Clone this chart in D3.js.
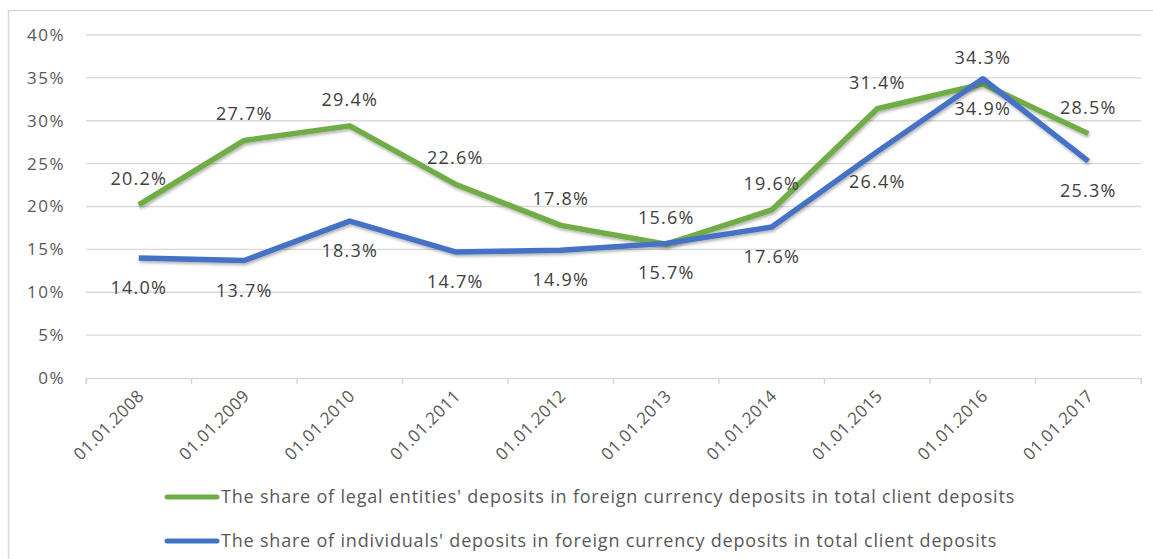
<!DOCTYPE html>
<html><head><meta charset="utf-8">
<script src="https://cdn.jsdelivr.net/npm/d3@7"></script>
<style>body{margin:0;background:#fff;}svg{display:block;font-family:"Open Sans",sans-serif;}</style>
</head><body><svg id="c" width="1153" height="559"></svg>
<script>
const categories = ["01.01.2008","01.01.2009","01.01.2010","01.01.2011","01.01.2012","01.01.2013","01.01.2014","01.01.2015","01.01.2016","01.01.2017"];
const legalEntities = [20.2,27.7,29.4,22.6,17.8,15.6,19.6,31.4,34.3,28.5];
const individuals = [14.0,13.7,18.3,14.7,14.9,15.7,17.6,26.4,34.9,25.3];
const yTicks = [0,5,10,15,20,25,30,35,40];
const seriesNames = ["The share of legal entities' deposits in foreign currency deposits in total client deposits","The share of individuals' deposits in foreign currency deposits in total client deposits"];
const colors = ["#70ad47","#4472c4"];

const svg = d3.select("#c");
const defs = svg.append("defs");
const f = defs.append("filter").attr("id","sh").attr("x","-10%").attr("y","-10%").attr("width","120%").attr("height","140%");
f.append("feDropShadow").attr("dx",1).attr("dy",2).attr("stdDeviation",1.5).attr("flood-color","#000").attr("flood-opacity",0.3);

// frame
svg.append("path").attr("d","M8.5,560 L8.5,10.5 L1160,10.5").attr("fill","none").attr("stroke","#d9d9d9").attr("stroke-width",1.5);

const x = d3.scaleBand().domain(categories).range([86,1141]);
const y = d3.scaleLinear().domain([0,40]).range([378,35]);

// gridlines
svg.append("g").selectAll("line").data(yTicks.filter(d=>d>0)).join("line")
  .attr("x1",86).attr("x2",1141).attr("y1",d=>y(d)).attr("y2",d=>y(d))
  .attr("stroke","#d9d9d9").attr("stroke-width",1.3);

// y axis labels
const yAxis = d3.axisLeft(y).tickValues(yTicks).tickFormat(d=>d+"%").tickSize(0).tickPadding(0);
const yg = svg.append("g").attr("transform","translate(65,0)").call(yAxis);
yg.select(".domain").remove();
yg.selectAll("text").attr("fill","#595959").style("font-size","17px").style("letter-spacing","1.5px").style("font-family","Open Sans, sans-serif");

// x axis
const xAxis = d3.axisBottom(x).tickSizeInner(6).tickSizeOuter(6).tickFormat(d=>d);
const xg = svg.append("g").attr("transform","translate(0,378)").call(xAxis);
xg.select(".domain").attr("stroke","#d9d9d9").attr("stroke-width",1.5);
xg.selectAll(".tick line").remove();
// ticks at band boundaries
const bounds = categories.map(c=>x(c)).concat([x.range()[1]]);
xg.append("g").selectAll("line").data(bounds).join("line")
  .attr("x1",d=>d).attr("x2",d=>d).attr("y1",0).attr("y2",6).attr("stroke","#d9d9d9").attr("stroke-width",1.5);
xg.selectAll(".tick text")
  .attr("fill","#595959").style("font-size","17px").style("letter-spacing","0.4px").style("font-family","Open Sans, sans-serif")
  .attr("text-anchor","end").attr("y",0).attr("dy","0.35em")
  .attr("transform","translate(2,15) rotate(-45)");

// lines
const line = d3.line().x((d,i)=>x(categories[i])+x.bandwidth()/2).y(d=>y(d));
[legalEntities,individuals].forEach((s,k)=>{
  svg.append("path").datum(s).attr("d",line).attr("fill","none")
    .attr("stroke",colors[k]).attr("stroke-width",5.5).attr("stroke-linejoin","round").attr("filter","url(#sh)");
});

// data labels
const lab = svg.append("g").style("font-size","18px").style("letter-spacing","1.2px").attr("fill","#404040").attr("text-anchor","middle");
lab.selectAll("text.g").data(legalEntities).join("text").attr("class","g")
  .attr("x",(d,i)=>x(categories[i])+x.bandwidth()/2).attr("y",d=>y(d)-20).text(d=>d.toFixed(1)+"%");
lab.selectAll("text.b").data(individuals).join("text").attr("class","b")
  .attr("x",(d,i)=>x(categories[i])+x.bandwidth()/2).attr("y",d=>y(d)+36).text(d=>d.toFixed(1)+"%");

// legend
const lg = svg.append("g");
seriesNames.forEach((n,k)=>{
  const yy = 497 + k*44;
  lg.append("line").attr("x1",167).attr("x2",217).attr("y1",yy).attr("y2",yy)
    .attr("stroke",colors[k]).attr("stroke-width",5).attr("stroke-linecap","round");
  lg.append("text").attr("x",221).attr("y",yy).attr("dy","0.35em").attr("fill","#595959")
    .style("font-size","18px").style("letter-spacing","0.8px").text(n);
});
</script></body></html>
